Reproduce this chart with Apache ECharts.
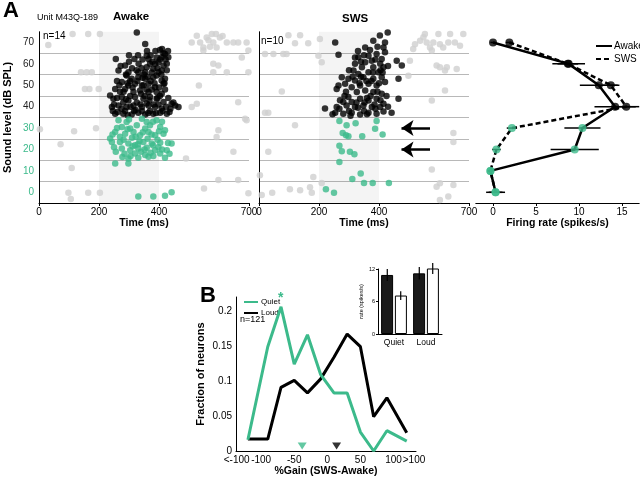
<!DOCTYPE html>
<html><head><meta charset="utf-8">
<script src="https://cdn.jsdelivr.net/npm/echarts@6/dist/echarts.min.js"></script>
<style>html,body{margin:0;padding:0;background:#fff}#c{width:640px;height:481px}</style>
</head><body><div id="c"></div>
<script>
// ---------- DATA ----------
// Raster dots: [time (ms), sound level position (dB)]
const awakeBlack = [[326,74.7],[354,69.3],[256,62.3],[318,62.3],[359,63.8],[365,62.3],[420,64.6],[431,63.1],[409,63.1],[370,60],[398,60.7],[415,59.2],[426,60],[359,58.4],[381,57.7],[409,56.9],[265,56.9],[287,59.2],[298,56.1],[331,56.1],[354,56.1],[398,56.1],[292,54.6],[309,53],[331,53.8],[354,53],[381,53.8],[392,54.6],[409,52.2],[276,51.5],[298,49.9],[320,50.7],[343,49.9],[365,50.7],[387,49.1],[415,50.7],[287,48.3],[315,46.8],[337,47.6],[365,46.8],[392,46.8],[409,46],[254,48.3],[237,45.2],[248,43.7],[276,44.5],[298,42.9],[320,44.5],[348,43.7],[370,44.5],[392,43.7],[415,42.2],[442,41.4],[465,39.8],[243,39.8],[265,40.6],[292,39.8],[315,40.6],[343,39.8],[365,40.6],[387,39.8],[409,39.1],[254,36.7],[281,36.7],[309,36.3],[331,37.2],[354,36.3],[381,36.7],[404,37.2],[426,36.7],[454,40.6],[270,47],[304,45],[326,42],[359,41.5],[376,48],[403,45],[420,48],[287,38],[343,38],[370,38],[398,41],[431,44],[420,53],[426,57],[404,62],[415,65],[392,63],[376,56],[348,50],[304,52],[281,42],[260,44],[332,60],[360,66],[387,60],[410,67],[430,66],[246,38],[296,36],[317,38],[364,37],[390,37],[424,40],[438,39],[260,52],[340,46],[350,55],[330,64],[300,61],[250,41],[262,37.5],[275,39],[290,43.5],[305,40],[322,38.5],[338,41],[352,45],[368,43],[382,41],[395,44],[412,38],[435,37.5],[448,42],[268,50],[282,47],[295,51],[312,49],[328,52],[345,53.5],[358,48],[372,52],[385,51],[400,49],[418,51],[272,59],[290,55],[310,58],[325,57],[342,58],[362,54],[378,61],[395,58],[408,55],[422,62],[300,64],[345,62],[372,64],[388,66],[403,66.5]];
const awakeGreen = [[265,33.6],[292,32.8],[343,34.4],[359,32.8],[392,33.6],[276,30.5],[304,29.8],[326,31.3],[354,29.8],[370,31.3],[404,30.5],[254,28.2],[287,27.4],[315,28.2],[337,26.7],[365,28.2],[387,26.7],[415,27.4],[237,25.1],[243,23.5],[270,23.5],[298,22.8],[320,22],[348,23.5],[376,22.8],[404,23.2],[442,22.8],[276,20.5],[304,19.7],[331,20.5],[359,20.8],[387,19.7],[426,19.7],[320,18.1],[354,17.4],[381,17],[404,18.1],[298,15.8],[331,16.1],[365,16.6],[420,16.1],[254,13.5],[298,13.5],[331,-2],[381,-2],[420,-1.6],[442,0],[282,24.5],[310,25.5],[335,24],[362,25],[395,24.5],[250,21],[285,18],[312,21.5],[340,19],[372,18.5],[398,21],[430,23],[260,30],[300,34],[380,33],[420,29],[245,27],[270,26],[295,29.5],[322,26],[346,28],[375,27],[400,28.5],[410,33],[256,19],[278,16.5],[305,17],[330,22.5],[352,20],[380,22],[410,20],[435,18]];
const awakeGray = [[31,68.8],[112,73.9],[164,73.9],[203,73.9],[140,56.1],[159,56.1],[176,56.1],[153,48.3],[168,48.3],[199,48.3],[3,29.4],[117,28.5],[190,29.9],[72,22.4],[109,11.3],[98,-0.2],[106,-3.1],[164,-0.2],[203,-0.2],[509,70],[526,73.1],[537,70],[548,67.7],[559,72.3],[576,73.9],[581,70],[592,67.7],[603,72.3],[626,70],[648,70],[664,70],[692,70],[698,66.2],[548,66.2],[565,71],[590,74],[570,68],[612,73],[581,60],[598,59.2],[581,56.1],[626,56.1],[676,63],[698,56.1],[533,49.9],[509,39.8],[526,41.4],[664,42.1],[687,34.4],[692,33.6],[598,29],[592,25.8],[648,18.9],[490,15.8],[598,5.7],[664,5.7],[550,1.8],[698,-0.5]];
const swsBlack = [[429,74.7],[403,73.2],[381,70.8],[420,70],[354,67.7],[415,67.7],[254,70],[265,64.2],[331,63.1],[365,63.8],[392,64.6],[409,62.3],[420,65.4],[354,60.7],[376,61.5],[404,60],[320,60],[459,61.5],[476,59.2],[343,58.4],[381,58.4],[415,58.4],[315,56.9],[331,55.3],[365,56.1],[398,56.1],[276,53.8],[298,53],[320,52.2],[348,53.8],[381,53],[409,53.8],[287,50.7],[309,49.1],[337,49.9],[365,50.7],[392,49.9],[420,51.5],[465,53],[265,49.9],[259,48.3],[326,46.8],[354,47.6],[381,46.8],[409,46],[298,44.5],[281,42.2],[309,42.2],[337,43.7],[365,42.9],[392,43.7],[415,41.4],[465,43.7],[259,39.8],[292,40.6],[320,39.8],[348,40.6],[376,39.8],[404,39.8],[220,39.1],[254,37.2],[281,36.7],[309,37.2],[337,36.3],[365,37.2],[392,36.7],[415,37.8],[442,37.2],[300,57],[340,61],[360,44],[385,41],[300,38],[325,42],[350,38],[375,52],[395,47],[290,47],[270,43],[340,54],[330,66],[395,68],[412,56],[425,45],[245,36.5],[360,36.5],[268,39],[285,45],[305,35.8],[330,39.5],[352,42],[372,45],[388,39],[405,43],[430,40],[312,54],[335,51],[358,52],[380,56],[400,51],[320,63],[350,64],[370,66.5],[388,62],[405,57],[430,59]];
const swsGreen = [[268,33.3],[292,31.3],[322,32.3],[392,33.3],[387,29.7],[412,27],[279,27.7],[290,26.6],[298,26.2],[344,26.2],[268,21.7],[276,19.2],[303,18.9],[318,17.8],[268,14.2],[339,8.8],[311,6.2],[350,4.4],[379,4.4],[433,4.4],[223,1.4],[250,-0.2]];
const swsGray = [[98,73.4],[137,73.4],[203,71.6],[120,69.6],[164,69.6],[20,64.6],[48,64.6],[81,64.6],[92,64.6],[198,63.8],[209,60.7],[76,47.1],[31,37.2],[20,37.2],[120,31.3],[31,18.9],[3,8],[181,7.2],[209,4.4],[170,2.3],[103,1.4],[44,-0.2],[9,-1.3],[176,-0.2],[137,1],[520,69.2],[537,70.8],[553,73.9],[559,70],[570,67.7],[581,70],[598,73.9],[603,69.2],[614,67.7],[631,70],[637,73.9],[653,70],[670,68.5],[681,73.9],[703,69.2],[514,66.9],[503,61.5],[548,72.4],[576,66.2],[592,59.2],[603,58.4],[620,56.9],[626,58.4],[659,57.6],[620,47.6],[498,54.5],[576,42.9],[703,42.9],[648,27.7],[648,23.5],[576,10.7],[603,4.2],[592,2.6],[603,-3.6],[648,3.4],[631,-2]];
const stimWindow = [200, 400];
const arrowLevels = [30, 20];
const arrowFrom = 570, arrowTo = 475;

// Rate-level functions
const levels = [70, 60, 50, 40, 30, 20, 10, 0];
const awakeRate = [0, 8.8, 12.3, 14.2, 10.4, 9.5, -0.3, 0.3];
const awakeErr = [0.3, 1.9, 2.2, 2.4, 2.1, 2.8, 0.3, 1.1];
const swsRate = [1.9, 8.7, 13.7, 15.5, 2.2, 0.4, -0.3, 0.3];
const swsErr = [0.4, 1.2, 1.0, 1.5, 0.6, 0.5, 0.3, 0.8];

// Gain distribution
const gainBins = [-120, -90, -70, -50, -30, -10, 10, 30, 50, 70, 90, 120];
const quietFrac = [0.016, 0.149, 0.206, 0.124, 0.166, 0.109, 0.083, 0.083, 0.027, 0, 0.029, 0.014];
const loudFrac = [0.017, 0.017, 0.091, 0.101, 0.083, 0.103, 0.134, 0.167, 0.149, 0.049, 0.076, 0.026];
const quietMedian = -38, loudMedian = 14;
const gainTicks = [-137, -100, -50, 0, 50, 100, 131];

// Inset
const insetCats = ['Quiet', 'Loud'];
const insetAwake = [10.9, 11.2];
const insetAwakeErr = [1.1, 1.15];
const insetSws = [7.1, 12.1];
const insetSwsErr = [0.8, 1.0];

// ---------- CHART ----------
const GREEN = '#3cba8b';
const GRAY = '#cfcfcf';
const FONT = 'Liberation Sans, Arial, Helvetica, sans-serif';
const chart = echarts.init(document.getElementById('c'), null, {renderer: 'canvas'});

const rasterX = (gi) => ({
  gridIndex: gi, type: 'value', min: 0, max: 700,
  axisLine: {onZero: false, lineStyle: {color: '#000', width: 1}},
  axisTick: {customValues: [0, 200, 400, 700], length: 3, lineStyle: {color: '#000'}},
  axisLabel: {customValues: [0, 200, 400, 700], fontSize: 10, color: '#000', margin: 4, fontFamily: FONT},
  splitLine: {show: false},
  name: 'Time (ms)', nameLocation: 'middle', nameGap: 14,
  nameTextStyle: {fontSize: 10.5, fontWeight: 'bold', color: '#000', fontFamily: FONT}
});
const rasterY = (gi, labels) => ({
  gridIndex: gi, type: 'value', min: -5, max: 75, interval: 10,
  axisLine: {show: true, onZero: false, lineStyle: {color: '#000', width: 1}},
  axisTick: {show: false},
  axisLabel: labels ? {customValues: levels, fontSize: 10, margin: 5, fontFamily: FONT,
    color: v => (v <= 30 ? GREEN : '#222')} : {show: false},
  splitLine: {show: true, showMaxLine: false, lineStyle: {color: '#b8b8b8', width: 1}},
  name: labels ? 'Sound level (dB SPL)' : '', nameLocation: 'middle', nameGap: 26, nameRotate: 90,
  nameTextStyle: {fontSize: 11, fontWeight: 'bold', color: '#000', fontFamily: FONT}
});

function dots(name, gi, data, color, extra) {
  return Object.assign({
    name, type: 'scatter', xAxisIndex: gi, yAxisIndex: gi, data,
    symbolSize: 6.5, itemStyle: {color}, silent: true, z: 3
  }, extra || {});
}
const shade = {silent: true, itemStyle: {color: 'rgba(0,0,0,0.045)'},
  data: [[{xAxis: stimWindow[0]}, {xAxis: stimWindow[1]}]]};

function errBarsH(name, rates, errs) {
  return {
    type: 'custom', xAxisIndex: 2, yAxisIndex: 2, silent: true, z: 3,
    data: levels.map((l, i) => [rates[i], l, errs[i]]),
    renderItem: (params, api) => {
      const a = api.coord([api.value(0) - api.value(2), api.value(1)]);
      const b = api.coord([api.value(0) + api.value(2), api.value(1)]);
      return {type: 'line', shape: {x1: a[0], y1: a[1], x2: b[0], y2: b[1]}, style: {stroke: '#000', lineWidth: 1.5}};
    }
  };
}
function errBarsV(vals, errs, side) {
  return {
    type: 'custom', xAxisIndex: 4, yAxisIndex: 4, silent: true, z: 5,
    data: vals.map((v, i) => [i, v, errs[i]]),
    renderItem: (params, api) => {
      const w = api.size([1, 0])[0];
      const off = side * w * 0.21;
      const a = api.coord([api.value(0), api.value(1) - api.value(2)]);
      const b = api.coord([api.value(0), api.value(1) + api.value(2)]);
      return {type: 'line', shape: {x1: a[0] + off, y1: a[1], x2: b[0] + off, y2: b[1]}, style: {stroke: '#000', lineWidth: 1.2}};
    }
  };
}
const levelColor = p => (p.data[1] <= 30 ? GREEN : '#000');

const option = {
  animation: false,
  backgroundColor: '#fff',
  textStyle: {fontFamily: FONT},
  grid: [
    {left: 39, top: 31.75, width: 210, height: 171.25},
    {left: 259, top: 31.75, width: 210, height: 171.25},
    {left: 475.8, top: 31.75, width: 163.4, height: 171.25},
    {left: 236, top: 297, width: 180, height: 154},
    {left: 378, top: 269, width: 64, height: 65}
  ],
  legend: [
    {data: ['Awake', 'SWS'], left: 590, top: 36, orient: 'vertical', itemWidth: 16, itemHeight: 8, itemGap: 3,
     textStyle: {fontSize: 10, color: '#000', padding: [0, 0, 0, -3]}, itemStyle: {opacity: 0}, selectedMode: false},
    {data: ['Quiet', 'Loud'], left: 238, top: 293, orient: 'vertical', itemWidth: 14, itemHeight: 6, itemGap: 3,
     textStyle: {fontSize: 8, color: '#000', padding: [0, 0, 0, -2]}, itemStyle: {opacity: 0}, selectedMode: false}
  ],
  xAxis: [
    rasterX(0), rasterX(1),
    {gridIndex: 2, type: 'value', min: -2, max: 17,
     axisLine: {onZero: false, lineStyle: {color: '#000'}},
     axisTick: {customValues: [0, 5, 10, 15], length: 3, lineStyle: {color: '#000'}},
     axisLabel: {customValues: [0, 5, 10, 15], fontSize: 10, color: '#000', margin: 4},
     splitLine: {show: false},
     name: 'Firing rate (spikes/s)', nameLocation: 'middle', nameGap: 14,
     nameTextStyle: {fontSize: 10.5, fontWeight: 'bold', color: '#000'}},
    {gridIndex: 3, type: 'value', min: -138, max: 134,
     axisLine: {onZero: false, lineStyle: {color: '#000'}},
     axisTick: {show: false},
     axisLabel: {customValues: gainTicks, fontSize: 10, color: '#000', margin: 4,
       formatter: v => (v < -100 ? '<-100' : v > 100 ? '>100' : String(v))},
     splitLine: {show: false},
     name: '%Gain (SWS-Awake)', nameLocation: 'middle', nameGap: 14,
     nameTextStyle: {fontSize: 10.5, fontWeight: 'bold', color: '#000'}},
    {gridIndex: 4, type: 'category', data: insetCats,
     axisLine: {lineStyle: {color: '#000'}}, axisTick: {show: false},
     axisLabel: {fontSize: 8.5, color: '#000', margin: 4}}
  ],
  yAxis: [
    rasterY(0, true), rasterY(1, false),
    {gridIndex: 2, type: 'value', min: -5, max: 75, show: false},
    {gridIndex: 3, type: 'value', min: 0, max: 0.22, interval: 0.05,
     axisLine: {show: true, onZero: false, lineStyle: {color: '#000'}},
     axisTick: {show: false},
     axisLabel: {fontSize: 10, color: '#000', margin: 4, showMaxLabel: false},
     splitLine: {show: false},
     name: 'Fraction of neurons', nameLocation: 'middle', nameGap: 30, nameRotate: 90,
     nameTextStyle: {fontSize: 11, fontWeight: 'bold', color: '#000'}},
    {gridIndex: 4, type: 'value', min: 0, max: 12, interval: 6,
     axisLine: {show: true, onZero: false, lineStyle: {color: '#000'}},
     axisTick: {show: true, length: 2, lineStyle: {color: '#000'}},
     axisLabel: {fontSize: 5.5, color: '#000', margin: 3},
     splitLine: {show: false},
     name: 'rate (spikes/s)', nameLocation: 'middle', nameGap: 10, nameRotate: 90,
     nameTextStyle: {fontSize: 5.5, color: '#000'}}
  ],
  series: [
    dots('awakeGray', 0, awakeGray, GRAY, {markArea: shade, z: 2}),
    dots('awakeBlack', 0, awakeBlack, '#000'),
    dots('awakeGreen', 0, awakeGreen, GREEN),
    dots('swsGray', 1, swsGray, GRAY, {markArea: shade, z: 2}),
    dots('swsBlack', 1, swsBlack, '#000'),
    dots('swsGreen', 1, swsGreen, GREEN, {
      markLine: {silent: true, symbol: ['none', 'arrow'], symbolSize: 12,
        lineStyle: {color: '#000', width: 2.5, type: 'solid'}, label: {show: false},
        itemStyle: {color: '#000'},
        data: arrowLevels.map(l => [{coord: [arrowFrom, l]}, {coord: [arrowTo, l]}])}
    }),
    errBarsH('awakeErr', awakeRate, awakeErr),
    errBarsH('swsErr', swsRate, swsErr),
    {name: 'Awake', type: 'line', xAxisIndex: 2, yAxisIndex: 2, symbol: 'none', silent: true, z: 4,
     data: levels.map((l, i) => [awakeRate[i], l]), lineStyle: {color: '#000', width: 2.5}, itemStyle: {color: '#000'}},
    {name: 'SWS', type: 'line', xAxisIndex: 2, yAxisIndex: 2, symbol: 'none', silent: true, z: 4,
     data: levels.map((l, i) => [swsRate[i], l]), lineStyle: {color: '#000', width: 2.5, type: [5, 3]}, itemStyle: {color: '#000'}},
    {type: 'scatter', xAxisIndex: 2, yAxisIndex: 2, silent: true, z: 5, symbolSize: 8,
     data: levels.map((l, i) => [swsRate[i], l]), itemStyle: {color: levelColor}},
    {type: 'scatter', xAxisIndex: 2, yAxisIndex: 2, silent: true, z: 5, symbolSize: 8,
     data: levels.map((l, i) => [awakeRate[i], l]), itemStyle: {color: levelColor}},
    {name: 'Loud', type: 'line', xAxisIndex: 3, yAxisIndex: 3, symbol: 'none', silent: true, z: 3,
     data: gainBins.map((g, i) => [g, loudFrac[i]]), lineStyle: {color: '#000', width: 3}, itemStyle: {color: '#000'}},
    {name: 'Quiet', type: 'line', xAxisIndex: 3, yAxisIndex: 3, symbol: 'none', silent: true, z: 4,
     data: gainBins.map((g, i) => [g, quietFrac[i]]), lineStyle: {color: GREEN, width: 3}, itemStyle: {color: GREEN}},
    {type: 'scatter', xAxisIndex: 3, yAxisIndex: 3, silent: true, z: 5, symbol: 'triangle', symbolRotate: 180,
     symbolSize: [9, 7], symbolOffset: [0, -5],
     data: [{value: [quietMedian, 0], itemStyle: {color: GREEN}}, {value: [loudMedian, 0], itemStyle: {color: '#000'}}]},
    {type: 'bar', xAxisIndex: 4, yAxisIndex: 4, silent: true, data: insetAwake, barWidth: 12, barGap: '15%',
     itemStyle: {color: '#1a1a1a', borderColor: '#000', borderWidth: 1}},
    {type: 'bar', xAxisIndex: 4, yAxisIndex: 4, silent: true, data: insetSws, barWidth: 12,
     itemStyle: {color: '#fff', borderColor: '#000', borderWidth: 1}},
    errBarsV(insetAwake, insetAwakeErr, -1),
    errBarsV(insetSws, insetSwsErr, 1)
  ],
  graphic: [
    {type: 'text', left: 3, top: 0, style: {text: 'A', font: 'bold 22px ' + FONT, fill: '#000'}},
    {type: 'text', left: 200, top: 285, style: {text: 'B', font: 'bold 22px ' + FONT, fill: '#000'}},
    {type: 'text', left: 37, top: 13, style: {text: 'Unit M43Q-189', font: '9px ' + FONT, fill: '#000'}},
    {type: 'text', left: 113, top: 11, style: {text: 'Awake', font: 'bold 11.5px ' + FONT, fill: '#000'}},
    {type: 'text', left: 342, top: 13, style: {text: 'SWS', font: 'bold 11.5px ' + FONT, fill: '#000'}},
    {type: 'text', left: 43, top: 31, style: {text: 'n=14', font: '10px ' + FONT, fill: '#000'}},
    {type: 'text', left: 261, top: 36, style: {text: 'n=10', font: '10px ' + FONT, fill: '#000'}},
    {type: 'text', left: 240, top: 315, style: {text: 'n=121', font: '9px ' + FONT, fill: '#000'}},
    {type: 'text', left: 278, top: 291, style: {text: '*', font: 'bold 14px ' + FONT, fill: GREEN}}
  ]
};
chart.setOption(option);
</script>
</body></html>
